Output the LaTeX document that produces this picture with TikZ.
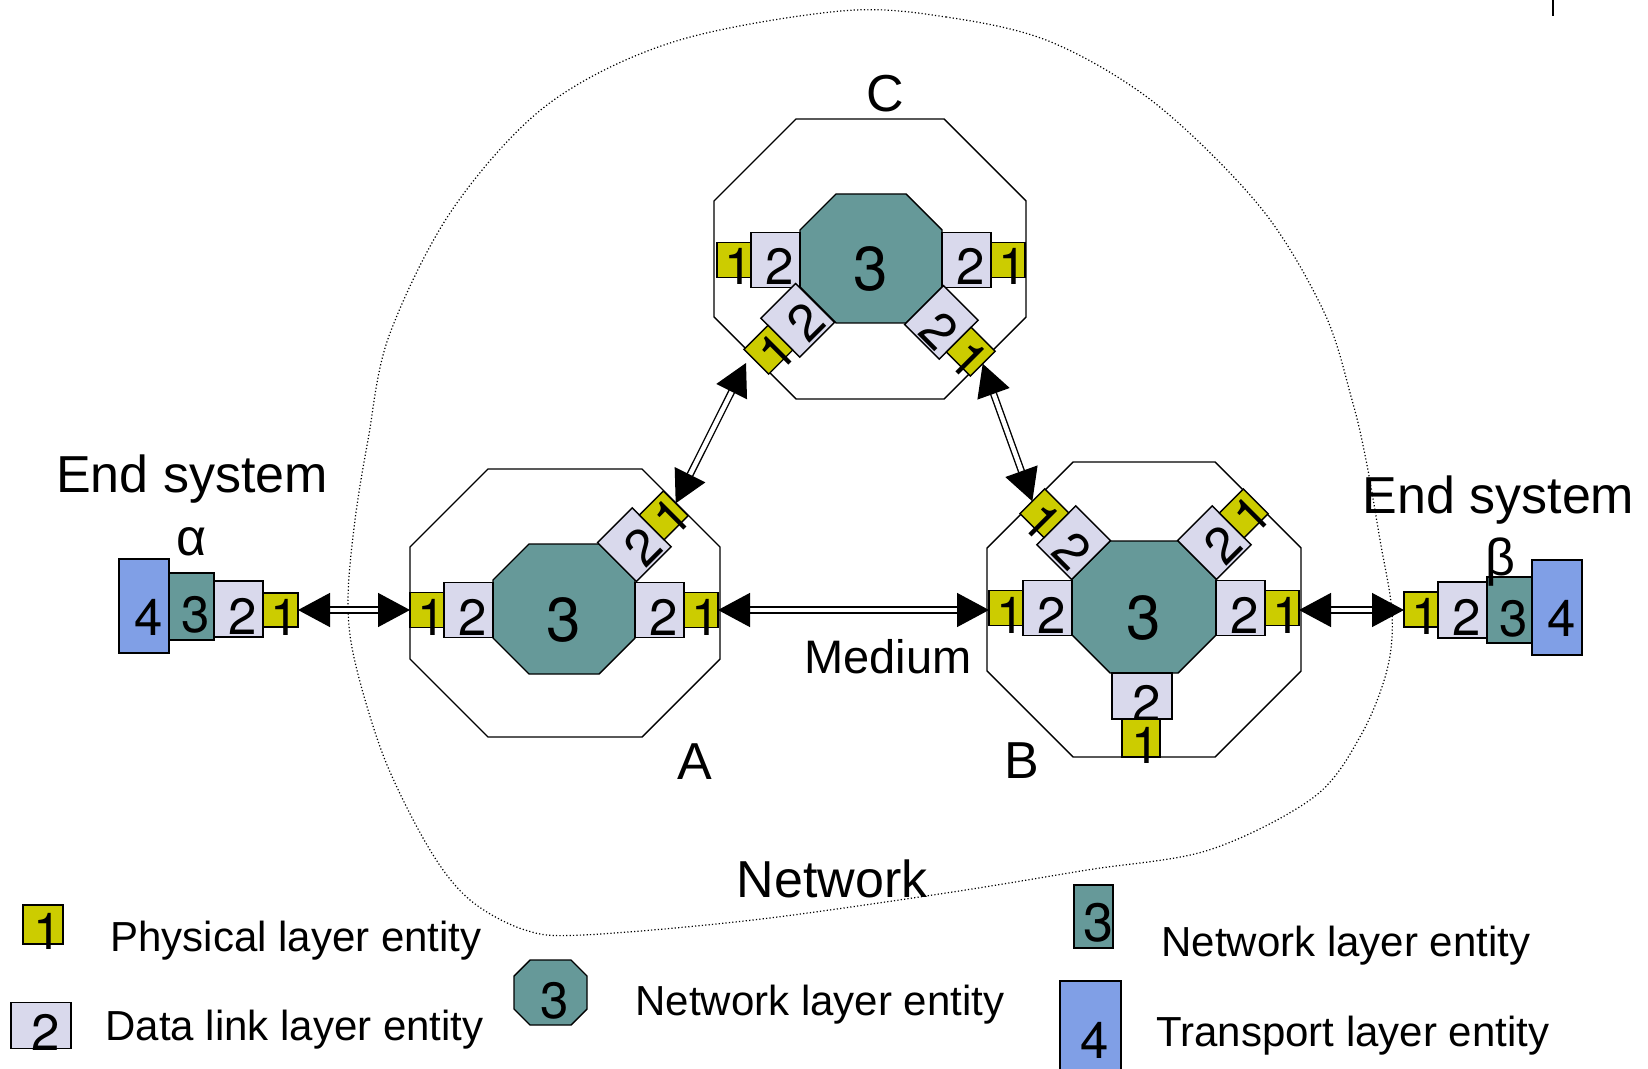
\documentclass[tikz,border=0pt]{standalone}
\usepackage{fontspec}
\setmainfont{Liberation Sans}
\newfontfamily\digfont{TeX Gyre Heros}
\usetikzlibrary{arrows.meta,calc}

\definecolor{phc}{HTML}{CCCC00}
\definecolor{dlc}{HTML}{D9D9EC}
\definecolor{nwc}{HTML}{669999}
\definecolor{tpc}{HTML}{809FE6}

% octagon from (x1,y1) to (x2,y2) in screen pixels, corner cut c
\newcommand\octpath[5]{(#1+#5,-#2) -- (#3-#5,-#2) -- (#3,-#2-#5) -- (#3,-#4+#5) -- (#3-#5,-#4) -- (#1+#5,-#4) -- (#1,-#4+#5) -- (#1,-#2-#5) -- cycle}
% zero-size digit, set a little right of and below the box centre
\newcommand\dgx[2]{\makebox[0pt]{\raisebox{-#1}[0pt][0pt]{\hspace*{4.5pt}#2}}}
\newcommand\dg[1]{\dgx{12.5pt}{#1}}
% a port: data link box on the network octagon edge, physical box beyond it
% #1 name, #2 #3 edge midpoint, #4 outward angle, #5 text angle
\newcommand\rport[5]{%
  \path ($(#2,-#3)+(#4:24.5)$) node[dl,rotate=#5] (#1-2) {\dg{2}};
  \path ($(#2,-#3)+(#4:66)$) node[ph,rotate=#5] (#1-1) {\dg{1}};
  \coordinate (#1-t) at ($(#2,-#3)+(#4:83)$);}

\begin{document}
\begin{tikzpicture}[x=0.5pt,y=0.5pt,
  box/.style={draw, line width=0.7pt, inner sep=0pt, font=\digfont\fontsize{25.5}{25.5}\selectfont},
  dl/.style={box, fill=dlc, minimum width=24.5pt, minimum height=27.5pt},
  ph/.style={box, fill=phc, minimum width=17pt, minimum height=17.5pt},
  nwbox/.style={box, fill=nwc},
  tpbox/.style={box, fill=tpc},
  router/.style={draw, line width=0.7pt, fill=white},
  netoct/.style={draw, line width=0.7pt, fill=nwc},
  big3/.style={inner sep=0pt, font=\digfont\fontsize{31}{31}\selectfont, text height=32pt, text depth=0pt},
  lbl/.style={font=\fontsize{26}{26}\selectfont, anchor=base, inner sep=0pt},
  leg/.style={font=\fontsize{21}{21}\selectfont, anchor=base west, inner sep=0pt},
  link/.style={double, double distance=2.2pt, line width=0.7pt,
    {Triangle[length=16pt,width=17pt]}-{Triangle[length=16pt,width=17pt]}},
  blob/.style={line width=0.6pt, dash pattern=on 0.6pt off 1.1pt}
]
\useasboundingbox (0,0) rectangle (1648,-1069);

% network boundary
\draw[blob] plot[smooth cycle, tension=0.55] coordinates {
  (841,-11) (946,-17) (1051,-42) (1156,-104) (1261,-208) (1324,-312)
  (1352,-400) (1366,-460) (1380,-540) (1392,-613) (1387,-670) (1361,-735)
  (1314,-797) (1209,-850) (1087,-870) (946,-893) (753,-920) (583,-935)
  (525,-930) (470,-900) (430,-850) (385,-760) (355,-662) (348,-600)
  (355,-520) (368,-440) (389,-336) (452,-210) (547,-105) (673,-42)};

\draw[line width=1pt] (1553,0) -- (1553,-16);

% routers
\draw[router] \octpath{714}{119}{1026}{399}{82};
\draw[router] \octpath{410}{469}{720}{737}{78};
\draw[router] \octpath{987}{462}{1301}{757}{86};

% router C
\draw[netoct] \octpath{800}{194}{942}{323}{36};
\node[big3] (C3) at (871,-258.5) {3};
\rport{pCl}{800}{260}{180}{0}
\rport{pCr}{942}{260}{0}{0}
\rport{pCll}{815}{303}{225}{45}
\rport{pClr}{924}{305}{-45}{-45}

% router A
\draw[netoct] \octpath{493}{544}{635}{674}{36};
\node[big3] (A3) at (564,-609) {3};
\rport{pAl}{493}{610}{180}{0}
\rport{pAr}{635}{610}{0}{0}
\rport{pAur}{617}{562}{45}{45}

% router B
\draw[netoct] \octpath{1072}{541}{1216}{673}{38};
\node[big3] (B3) at (1144,-607) {3};
\rport{pBl}{1072}{608}{180}{0}
\rport{pBr}{1216}{608}{0}{0}
\rport{pBul}{1091}{560}{135}{-45}
\rport{pBur}{1197}{560}{45}{45}
\node[dl, minimum width=30pt, minimum height=23pt] (pBb-2) at (1142,-696) {\dg{2}};
\node[ph, minimum width=19pt, minimum height=19pt] (pBb-1) at (1141,-738) {\dg{1}};

% end system alpha
\node[tpbox, minimum width=25pt, minimum height=47pt] (a4) at (144,-606) {\dgx{14.5pt}{4}};
\node[nwbox, minimum width=22.5pt, minimum height=33.5pt] (a3) at (191.5,-606.5) {\dgx{13pt}{3}};
\node[dl, minimum height=28pt] (a2) at (238.5,-609) {\dg{2}};
\node[ph, minimum width=17.5pt, minimum height=17pt] (a1) at (280.5,-610) {\dg{1}};
\coordinate (a1-t) at (298,-610);

% end system beta
\node[ph] (b1) at (1421,-609.5) {\dg{1}};
\node[dl, minimum height=28pt] (b2) at (1462.5,-610) {\dg{2}};
\node[nwbox, minimum width=22.5pt, minimum height=33pt] (b3) at (1509.5,-610) {\dgx{13pt}{3}};
\node[tpbox, minimum width=25pt, minimum height=47.5pt] (b4) at (1557,-607.5) {\dgx{14.5pt}{4}};
\coordinate (b1-t) at (1404,-610);

% media
\coordinate (cLLend) at (746,-363);
\draw[link] (a1-t) -- (pAl-t |- a1-t);
\draw[link] (pAr-t |- a1-t) -- (pBl-t |- a1-t);
\draw[link] (pBr-t |- a1-t) -- (b1-t);
\draw[link] (pAur-t) -- (cLLend);
\draw[link] (pClr-t) -- (pBul-t);

% labels
\node[lbl] (es1) at (192,-492) {End system};
\node[lbl] (esa) at (192,-555) {α};
\node[lbl] (es2) at (1498.5,-513) {End system};
\node[lbl] (esb) at (1500,-575) {β};
\node[lbl] (lC) at (885,-112) {C};
\node[lbl] (lA) at (695,-779) {A};
\node[lbl] (lB) at (1022,-778) {B};
\node[lbl, font=\fontsize{23.5}{23.5}\selectfont] (lmed) at (888,-673) {Medium};
\node[lbl] (lnet) at (832,-897) {Network};

% legend
\node[ph, minimum width=20pt, minimum height=19.5pt] (lg1) at (43,-924.5) {\dg{1}};
\node[dl, minimum width=30pt, minimum height=23pt] (lg2) at (41,-1025.5) {\dg{2}};
\draw[netoct] \octpath{514}{960}{587}{1025}{16};
\node[box, draw=none] (lg3) at (550.5,-992.5) {\dgx{13pt}{3}};
\node[nwbox, minimum width=19.5pt, minimum height=31.5pt, font=\digfont\fontsize{27}{27}\selectfont] (lg3r) at (1093.5,-916.5) {\dgx{12.5pt}{3}};
\node[tpbox, minimum width=30.5pt, minimum height=49pt] (lg4) at (1090.5,-1030) {\dgx{14pt}{4}};
\node[leg] (t1) at (110,-951) {Physical layer entity};
\node[leg] (t2) at (105,-1040) {Data link layer entity};
\node[leg] (t3) at (635,-1015) {Network layer entity};
\node[leg] (t4) at (1161,-956) {Network layer entity};
\node[leg] (t5) at (1156,-1046) {Transport layer entity};
\end{tikzpicture}
\end{document}
